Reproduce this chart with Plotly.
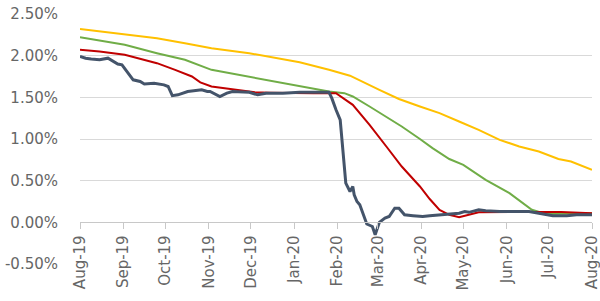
import plotly.graph_objects as go

# ---- data ----
navy_dates = ["2019-08-01","2019-08-05","2019-08-09","2019-08-15","2019-08-21","2019-08-24","2019-08-28",
              "2019-08-31","2019-09-02","2019-09-04","2019-09-08","2019-09-13","2019-09-16","2019-09-23",
              "2019-09-30","2019-10-03","2019-10-06","2019-10-10","2019-10-17","2019-10-27","2019-10-31",
              "2019-11-02","2019-11-09","2019-11-14","2019-11-18","2019-11-30","2019-12-06","2019-12-12",
              "2019-12-24","2020-01-05","2020-01-17","2020-01-26","2020-01-28","2020-01-30","2020-01-31",
              "2020-02-03","2020-02-04","2020-02-06","2020-02-07","2020-02-10","2020-02-12","2020-02-13",
              "2020-02-15","2020-02-17","2020-02-19","2020-02-22","2020-02-26","2020-02-28","2020-03-02",
              "2020-03-06","2020-03-09","2020-03-13","2020-03-16","2020-03-20","2020-03-26","2020-04-02",
              "2020-04-07","2020-04-14","2020-04-21","2020-04-28","2020-05-02","2020-05-05","2020-05-12",
              "2020-05-17","2020-05-27","2020-06-10","2020-06-17","2020-06-24","2020-07-04","2020-07-14",
              "2020-07-21","2020-08-01"]
navy_vals = [1.99,1.97,1.96,1.95,1.97,1.94,1.90,
             1.89,1.85,1.80,1.71,1.69,1.66,1.67,
             1.65,1.63,1.52,1.53,1.57,1.59,1.57,
             1.57,1.51,1.55,1.57,1.56,1.53,1.55,
             1.55,1.56,1.56,1.56,1.49,1.39,1.35,
             1.23,1.03,0.71,0.47,0.37,0.43,0.33,
             0.25,0.21,0.11,-0.02,-0.05,-0.15,0.00,
             0.05,0.07,0.17,0.17,0.09,0.08,0.07,
             0.08,0.09,0.10,0.11,0.13,0.12,0.15,
             0.14,0.13,0.13,0.13,0.11,0.08,0.08,
             0.09,0.09]

red_dates = ["2019-08-01","2019-08-15","2019-09-02","2019-09-25","2019-10-08","2019-10-20","2019-10-26",
             "2019-11-03","2019-12-04","2019-12-15","2020-01-15","2020-01-31","2020-02-12","2020-02-24",
             "2020-03-07","2020-03-18","2020-03-31","2020-04-07","2020-04-14","2020-04-21","2020-04-28",
             "2020-05-05","2020-05-12","2020-06-10","2020-07-10","2020-08-01"]
red_vals = [2.07,2.05,2.01,1.91,1.83,1.75,1.68,
            1.63,1.56,1.555,1.55,1.55,1.41,1.17,
            0.91,0.67,0.43,0.28,0.15,0.09,0.06,
            0.09,0.12,0.125,0.125,0.11]

green_dates = ["2019-08-01","2019-09-02","2019-09-25","2019-10-15","2019-11-03","2020-01-01","2020-01-26",
               "2020-02-06","2020-02-12","2020-02-24","2020-03-07","2020-03-18","2020-03-31","2020-04-09",
               "2020-04-21","2020-05-01","2020-05-17","2020-06-03","2020-06-19","2020-06-29","2020-08-01"]
green_vals = [2.22,2.13,2.03,1.95,1.83,1.645,1.57,
              1.55,1.51,1.39,1.27,1.15,1.00,0.89,
              0.76,0.69,0.51,0.35,0.15,0.10,0.11]

yellow_dates = ["2019-08-01","2019-09-02","2019-09-25","2019-10-15","2019-11-03","2019-11-30","2020-01-05",
                "2020-01-26","2020-02-02","2020-02-10","2020-03-02","2020-03-16","2020-03-31","2020-04-14",
                "2020-04-28","2020-05-12","2020-05-27","2020-06-10","2020-06-24","2020-07-08","2020-07-17",
                "2020-08-01"]
yellow_vals = [2.32,2.26,2.21,2.15,2.09,2.03,1.92,
               1.83,1.80,1.76,1.59,1.48,1.39,1.31,
               1.21,1.11,0.99,0.91,0.85,0.76,0.73,
               0.63]

tick_dates = ["2019-08-01","2019-09-01","2019-10-01","2019-11-01","2019-12-01","2020-01-01","2020-02-01",
              "2020-03-01","2020-04-01","2020-05-01","2020-06-01","2020-07-01","2020-08-01"]
tick_labels = ["Aug-19","Sep-19","Oct-19","Nov-19","Dec-19","Jan-20","Feb-20",
               "Mar-20","Apr-20","May-20","Jun-20","Jul-20","Aug-20"]

y_tickvals = [-0.5, 0.0, 0.5, 1.0, 1.5, 2.0, 2.5]
y_ticktext = ["-0.50%", "0.00%", "0.50%", "1.00%", "1.50%", "2.00%", "2.50%"]

fig = go.Figure()
fig.add_trace(go.Scatter(x=yellow_dates, y=yellow_vals, mode="lines",
                         line=dict(color="#FFC000", width=2), showlegend=False))
fig.add_trace(go.Scatter(x=green_dates, y=green_vals, mode="lines",
                         line=dict(color="#70AD47", width=2), showlegend=False))
fig.add_trace(go.Scatter(x=red_dates, y=red_vals, mode="lines",
                         line=dict(color="#C00000", width=2), showlegend=False))
fig.add_trace(go.Scatter(x=navy_dates, y=navy_vals, mode="lines",
                         line=dict(color="#44546A", width=3), showlegend=False))

font = dict(family="DejaVu Sans", size=15, color="#666666")
fig.update_layout(
    width=600, height=301,
    margin=dict(l=80, r=8, t=14, b=37),
    paper_bgcolor="white", plot_bgcolor="white",
    font=font,
    xaxis=dict(type="date", range=["2019-08-01", "2020-08-01"],
               tickvals=tick_dates, ticktext=tick_labels, tickangle=-90,
               anchor="free", position=1/6, automargin=False,
               ticklabeloverflow="allow",
               showgrid=False, zeroline=False,
               showline=True, linecolor="#c8c8c8", linewidth=1,
               ticks="outside", ticklen=6, tickcolor="#c8c8c8",
               tickfont=font),
    yaxis=dict(range=[-0.5, 2.5], tickvals=y_tickvals, ticktext=y_ticktext,
               automargin=False, ticklabeloverflow="allow",
               showgrid=True, gridcolor="#d9d9d9", gridwidth=1, zeroline=False,
               showline=False, ticks="", ticklabelstandoff=21, tickfont=font),
)
fig.write_html("out.html", config={"displayModeBar": False},
               post_script="document.body.style.margin='0';document.body.style.overflow='hidden';")
